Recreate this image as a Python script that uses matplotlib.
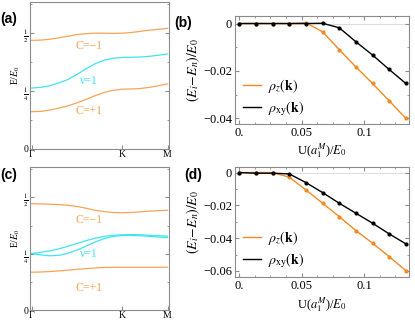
import numpy as np
import matplotlib
matplotlib.use("Agg")
import matplotlib.pyplot as plt
from matplotlib.ticker import MultipleLocator

plt.rcParams['font.family'] = ['Liberation Serif', 'DejaVu Serif']
plt.rcParams['mathtext.fontset'] = 'stix'

# band structure, k along Γ-K-M (Γ=0, K=1, M=1.5)
k_path = [0.0, 0.1, 0.2, 0.3, 0.4, 0.5, 0.6, 0.7, 0.8, 0.9, 1.0, 1.1, 1.2, 1.3, 1.4, 1.5]
a_upper = [0.469, 0.470, 0.474, 0.480, 0.487, 0.494, 0.498, 0.500, 0.500, 0.499, 0.500, 0.503, 0.508, 0.513, 0.517, 0.521]
a_flat = [0.263, 0.266, 0.273, 0.285, 0.300, 0.322, 0.346, 0.368, 0.383, 0.392, 0.395, 0.396, 0.397, 0.400, 0.405, 0.410]
a_lower = [0.161, 0.162, 0.168, 0.176, 0.186, 0.199, 0.214, 0.230, 0.244, 0.253, 0.258, 0.259, 0.261, 0.266, 0.273, 0.281]

c_upper = [0.472, 0.471, 0.470, 0.468, 0.465, 0.460, 0.452, 0.443, 0.437, 0.433, 0.432, 0.433, 0.436, 0.439, 0.441, 0.443]
c_flat1 = [0.251, 0.245, 0.241, 0.243, 0.252, 0.266, 0.284, 0.302, 0.317, 0.327, 0.331, 0.331, 0.330, 0.327, 0.324, 0.322]
c_flat2 = [0.251, 0.256, 0.263, 0.272, 0.283, 0.296, 0.308, 0.319, 0.327, 0.332, 0.334, 0.335, 0.334, 0.332, 0.330, 0.328]
c_lower = [0.168, 0.169, 0.171, 0.174, 0.177, 0.181, 0.184, 0.187, 0.189, 0.190, 0.190, 0.190, 0.190, 0.190, 0.190, 0.190]

k_ticks = [0, 1, 1.5]
k_labels = ['Γ', 'K', 'M']

# energy differences vs U
u_vals = [0, 1/75, 2/75, 3/75, 4/75, 5/75, 6/75, 7/75, 8/75, 9/75, 10/75]
b_rho_z = [0, 0, 0, 0, 0.0003, -0.0035, -0.0110, -0.0183, -0.0253, -0.0326, -0.0400]
b_rho_xy = [0, 0, 0, 0, 0, 0.0001, -0.0018, -0.0077, -0.0133, -0.0194, -0.0253]
d_rho_z = [0, 0, 0, -0.0028, -0.0106, -0.0187, -0.0269, -0.0354, -0.0431, -0.0513, -0.0598]
d_rho_xy = [0, -0.0004, -0.0004, -0.0008, -0.0061, -0.0122, -0.0187, -0.0248, -0.0309, -0.0374, -0.0435]

ORANGE = '#f7a456'
CYAN = '#3ee6f0'
FRAME = '#8c8c8c'

fig = plt.figure(figsize=(4.15, 3.23), dpi=100)


def style_frame(ax):
    for s in ax.spines.values():
        s.set_color(FRAME)
        s.set_linewidth(0.8)
    ax.tick_params(which='both', direction='in', color=FRAME, top=True, right=True)


def band_panel(rect, bands, colors, texts):
    ax = fig.add_axes(rect)
    for b, c in zip(bands, colors):
        ax.plot(k_path, b, color=c, lw=0.9)
    ax.set_xlim(-0.02, 1.515)
    ax.set_ylim(0, 0.635)
    ax.set_xticks(k_ticks)
    ax.set_xticklabels(k_labels, fontsize=7)
    ax.set_yticks([0, 0.25, 0.5])
    ax.set_yticklabels(['0', r'$\frac{1}{4}$', r'$\frac{1}{2}$'], fontsize=7)
    ax.yaxis.set_minor_locator(MultipleLocator(0.125))
    style_frame(ax)
    ax.tick_params(which='major', length=3, pad=1)
    ax.tick_params(which='minor', length=1.5)
    ax.tick_params(axis='x', top=False)
    ax.set_ylabel(r'E/$E_0$', fontsize=7, labelpad=1)
    for x, y, s, c in texts:
        ax.text(x, y, s, color=c, fontsize=8.5, ha='center', va='center')
    return ax


def diff_panel(rect, rz, rxy, ylim, yt, yl, leg_y):
    ax = fig.add_axes(rect)
    ax.axhline(0, color='#dddddd', lw=0.8, zorder=0)
    lz, = ax.plot(u_vals, rz, color='#f28a24', lw=1.0, marker='o', ms=2, zorder=2)
    lxy, = ax.plot(u_vals, rxy, color='black', lw=1.0, marker='o', ms=2, zorder=3)
    ax.set_xlim(-0.0035, 0.136)
    ax.set_ylim(*ylim)
    ax.set_xticks([0, 0.05, 0.1])
    ax.set_xticklabels(['0.', '0.05', '0.1'], fontsize=9)
    ax.xaxis.set_minor_locator(MultipleLocator(0.0125))
    ax.set_yticks(yt)
    ax.set_yticklabels(yl, fontsize=9)
    ax.yaxis.set_minor_locator(MultipleLocator(0.01))
    style_frame(ax)
    ax.tick_params(which='major', length=3, pad=2)
    ax.tick_params(which='minor', length=1.5)
    ax.set_xlabel(r'U($a_1^M$)/$E_0$', fontsize=9, labelpad=2)
    ax.set_ylabel(r'$(E_i\!-\!E_n)/E_0$', fontsize=10, labelpad=1)
    leg = ax.legend([lz, lxy], [r'$\rho_z(\mathbf{k})$', r'$\rho_{\rm xy}(\mathbf{k})$'],
                    loc='lower left', bbox_to_anchor=(0.0, leg_y), frameon=False,
                    fontsize=10, handlelength=1.3, handletextpad=0.5, labelspacing=0.3,
                    borderaxespad=0.2)
    for ln in leg.get_lines():
        ln.set_marker('')
    return ax


band_panel([0.072, 0.539, 0.335, 0.455],
           [a_upper, a_flat, a_lower], [ORANGE, CYAN, ORANGE],
           [(0.63, 0.446, 'C=−1', ORANGE), (0.63, 0.295, 'ν=1', CYAN),
            (0.63, 0.165, 'C=+1', ORANGE)])
band_panel([0.072, 0.040, 0.335, 0.443],
           [c_upper, c_flat1, c_flat2, c_lower], [ORANGE, CYAN, CYAN, ORANGE],
           [(0.63, 0.400, 'C=−1', ORANGE), (0.63, 0.250, 'ν=1', CYAN),
            (0.63, 0.100, 'C=+1', ORANGE)])

diff_panel([0.566, 0.616, 0.42, 0.334], b_rho_z, b_rho_xy, (-0.0424, 0.0031),
           [0, -0.02, -0.04], ['0', '−0.02', '−0.04'], -0.02)
diff_panel([0.566, 0.1415, 0.42, 0.341], d_rho_z, d_rho_xy, (-0.0639, 0.0033),
           [0, -0.02, -0.04, -0.06], ['0', '−0.02', '−0.04', '−0.06'], -0.01)

for x, y, s in [(0.0, 0.93, '(a)'), (0.42, 0.915, '(b)'), (0.0, 0.445, '(c)'), (0.445, 0.445, '(d)')]:
    fig.text(x, y, s, fontsize=10, fontweight='bold', family='Liberation Sans')

fig.savefig('out.png', dpi=100)
